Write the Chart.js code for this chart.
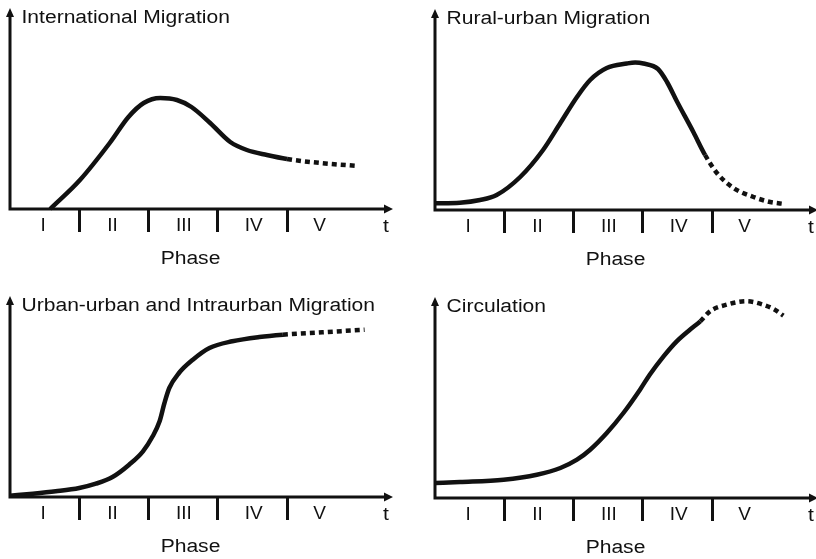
<!DOCTYPE html>
<html>
<head>
<meta charset="utf-8">
<script src="https://cdn.jsdelivr.net/npm/chart.js@4.4.1/dist/chart.umd.min.js"></script>
<style>
  html, body { margin: 0; padding: 0; background: #fff; overflow: hidden; width: 816px; height: 559px; }
  canvas { position: absolute; }
</style>
</head>
<body>
<canvas id="c1" width="408" height="280" style="left:0px;top:0px"></canvas>
<canvas id="c2" width="408" height="280" style="left:425px;top:1px"></canvas>
<canvas id="c3" width="408" height="280" style="left:0px;top:288px"></canvas>
<canvas id="c4" width="408" height="280" style="left:425px;top:289px"></canvas>
<script>
// phase axis
const phases = ['I', 'II', 'III', 'IV', 'V'];
const phaseLabelAt = [0.48, 1.48, 2.51, 3.52, 4.47];
const phaseBounds = [1, 2, 3, 4];

// International Migration
const intlT = [0.58, 1.01, 1.44, 1.71, 1.93, 2.17, 2.41, 2.62, 2.89, 3.18, 3.42, 3.71, 4.00, 4.48, 5.03];
const intlV = [0, 29, 66, 92, 106, 111, 109, 102, 86, 67, 59, 54, 50, 46, 43];
const intlDotFrom = 12;

// Rural-urban Migration
const ruralT = [0, 0.36, 0.65, 0.89, 1.23, 1.56, 1.81, 2.05, 2.24, 2.48, 2.77, 2.89, 3.01, 3.22, 3.35, 3.49, 3.73, 3.90, 4.07, 4.31, 4.60, 4.84, 5.05];
const ruralV = [6.7, 7.3, 10, 15, 33, 60, 87, 113, 130, 142, 146.5, 147.5, 146.5, 141, 128, 109, 78, 55, 37, 22, 13, 8, 6];
const ruralDotFrom = 17;

// Urban-urban and Intraurban Migration
const urbanT = [0, 0.33, 0.66, 1.0, 1.24, 1.48, 1.72, 1.92, 2.06, 2.16, 2.23, 2.30, 2.44, 2.64, 2.88, 3.21, 3.60, 3.94, 4.51, 5.12];
const urbanV = [1.3, 3.3, 5.7, 9, 13.3, 20, 32.3, 45.7, 60.7, 75.7, 94, 109, 124, 137.3, 149, 155.7, 160, 162.3, 164.7, 167.3];
const urbanDotFrom = 17;

// Circulation
const circT = [0, 0.36, 0.99, 1.47, 1.81, 2.05, 2.24, 2.48, 2.72, 2.96, 3.10, 3.30, 3.49, 3.68, 3.83, 3.97, 4.21, 4.50, 4.74, 4.89, 5.03];
const circV = [15, 16, 18.3, 23.3, 30, 38.3, 48.3, 65, 85, 108.3, 123.3, 141.7, 156.7, 168.3, 176.7, 186.7, 193.3, 196.7, 193.3, 189, 182.3];
const circDotFrom = 14;

const FONT = '"Liberation Sans", Arial, Helvetica, sans-serif';
const INK = '#111';

// ticks alternate: label position, boundary, label position, ...
const tickVals = [];
phaseLabelAt.forEach((p, i) => {
  tickVals.push(p);
  if (i < phaseBounds.length) tickVals.push(phaseBounds[i]);
});

function stretchText(ctx, text, x, y, align) {
  ctx.save();
  ctx.translate(x, y);
  ctx.scale(1.17, 1);
  ctx.textAlign = align;
  ctx.fillText(text, 0, 0);
  ctx.restore();
}

const panelDeco = {
  id: 'panelDeco',
  beforeDatasetsDraw(chart, args, opts) {
    const {ctx, chartArea: a} = chart;
    ctx.save();
    ctx.strokeStyle = INK;
    ctx.fillStyle = INK;
    ctx.lineWidth = 3;
    ctx.beginPath();
    ctx.moveTo(a.left, a.top + 6);
    ctx.lineTo(a.left, a.bottom + 1.5);
    ctx.moveTo(a.left - 1.5, a.bottom);
    ctx.lineTo(a.right - 6, a.bottom);
    ctx.stroke();
    // arrow heads
    ctx.beginPath();
    ctx.moveTo(a.left, a.top - 1);
    ctx.lineTo(a.left - 4, a.top + 8);
    ctx.lineTo(a.left + 4, a.top + 8);
    ctx.closePath();
    ctx.moveTo(a.right, a.bottom);
    ctx.lineTo(a.right - 9, a.bottom - 4.5);
    ctx.lineTo(a.right - 9, a.bottom + 4.5);
    ctx.closePath();
    ctx.fill();
    // texts
    ctx.font = '18px ' + FONT;
    ctx.textBaseline = 'alphabetic';
    stretchText(ctx, opts.title, a.left + 11.5, 23, 'left');
    stretchText(ctx, 'Phase', a.left + 180.5, 263.5, 'center');
    stretchText(ctx, 't', a.left + 376, 231.5, 'center');
    ctx.restore();
  }
};

function makeChart(id, title, t, v, dotFrom) {
  new Chart(document.getElementById(id), {
    type: 'line',
    data: {
      datasets: [{
        data: t.map((x, i) => ({x: x, y: v[i]})),
        borderColor: INK,
        borderWidth: 4.5,
        pointRadius: 0,
        cubicInterpolationMode: 'monotone',
        clip: false,
        segment: {
          borderDash: c => c.p0DataIndex >= dotFrom ? [5, 4] : undefined
        }
      }]
    },
    options: {
      responsive: false,
      animation: false,
      devicePixelRatio: 1,
      layout: {padding: {left: 10, right: 15, top: 9, bottom: 0}},
      plugins: {
        legend: {display: false},
        tooltip: {enabled: false},
        panelDeco: {title: title}
      },
      scales: {
        x: {
          type: 'linear',
          min: 0,
          max: 5.53,
          bounds: 'data',
          afterBuildTicks: s => { s.ticks = tickVals.map(value => ({value})); },
          afterFit: s => { s.height = 71; },
          border: {display: false},
          grid: {
            drawOnChartArea: false,
            drawTicks: true,
            tickLength: 23,
            tickWidth: 3,
            tickColor: c => c.index % 2 ? INK : 'rgba(0,0,0,0)'
          },
          ticks: {
            autoSkip: false,
            maxRotation: 0,
            padding: -16,
            color: INK,
            font: {family: FONT, size: 19, lineHeight: 1},
            callback: (val, i) => i % 2 ? '' : phases[i / 2]
          }
        },
        y: {display: false, min: 0, max: 200}
      }
    },
    plugins: [panelDeco]
  });
}

makeChart('c1', 'International Migration', intlT, intlV, intlDotFrom);
makeChart('c2', 'Rural-urban Migration', ruralT, ruralV, ruralDotFrom);
makeChart('c3', 'Urban-urban and Intraurban Migration', urbanT, urbanV, urbanDotFrom);
makeChart('c4', 'Circulation', circT, circV, circDotFrom);
</script>
</body>
</html>
